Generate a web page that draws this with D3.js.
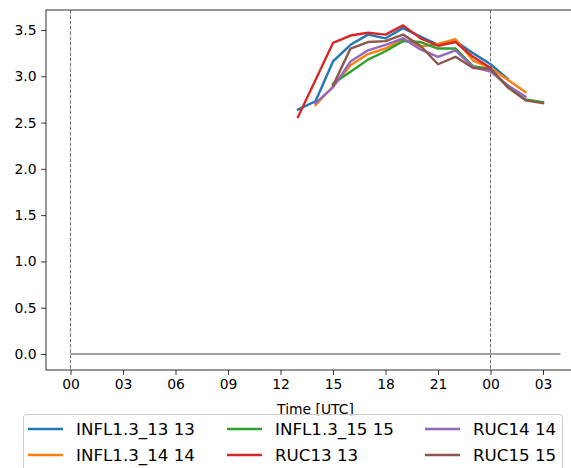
<!DOCTYPE html>
<html>
<head>
<meta charset="utf-8">
<script src="https://cdn.jsdelivr.net/npm/d3@7"></script>
<style>
    body { margin: 0; background: #fff; }
    svg { display: block; overflow: hidden; font-family: "DejaVu Sans", sans-serif; }
</style>
</head>
<body>
<svg id="chart" width="571" height="468"></svg>
<script>
// series names (legend order) and colours
const seriesNames = ["INFL1.3_13 13", "INFL1.3_14 14", "INFL1.3_15 15", "RUC13 13", "RUC14 14", "RUC15 15"];
const seriesColors = ["#1f77b4", "#ff7f0e", "#2ca02c", "#d62728", "#9467bd", "#8c564b"];

// first forecast hour (UTC, hours counted from 00 of day 1) for each series
const seriesStart = [13, 14, 15, 13, 14, 15];

// hourly values
const infl13 = [2.64, 2.73, 3.16, 3.34, 3.45, 3.41, 3.52, 3.43, 3.34, 3.38, 3.25, 3.13, 2.97];
const infl14 = [2.69, 2.89, 3.12, 3.24, 3.30, 3.40, 3.32, 3.35, 3.40, 3.17, 3.09, 2.96, 2.83];
const infl15 = [2.92, 3.05, 3.18, 3.27, 3.38, 3.37, 3.30, 3.30, 3.11, 3.08, 2.88, 2.75, 2.72];
const ruc13 = [2.56, 2.96, 3.36, 3.44, 3.47, 3.45, 3.55, 3.41, 3.33, 3.37, 3.21, 3.09];
const ruc14 = [2.71, 2.88, 3.16, 3.28, 3.34, 3.41, 3.29, 3.21, 3.28, 3.10, 3.05, 2.90, 2.78];
const ruc15 = [2.90, 3.30, 3.37, 3.38, 3.45, 3.33, 3.13, 3.21, 3.09, 3.08, 2.88, 2.74, 2.71];
const seriesValues = [infl13, infl14, infl15, ruc13, ruc14, ruc15];

// axis ticks
const xTicks = [0, 3, 6, 9, 12, 15, 18, 21, 24, 27];
const yTicks = [0, 0.5, 1.0, 1.5, 2.0, 2.5, 3.0, 3.5];
const dayMarks = [0, 24];
const zeroLineRange = [0, 28];

class Chart {

    constructor() {
        this.svg = d3.select("#chart");
        this.left = 46;
        this.right = 585;
        this.top = 10;
        this.bottom = 370;
        this.x = d3.scaleLinear().domain([-1.4, 29.4]).range([this.left, this.right]);
        this.y = d3.scaleLinear().domain([-0.173, 3.716]).range([this.bottom, this.top]);
    }

    draw() {
        let x = this.x, y = this.y;
        let svg = this.svg;

        // day separators
        svg.append("g").selectAll("line")
            .data(dayMarks)
            .enter()
            .append("line")
            .attr("x1", d => x(d)).attr("x2", d => x(d))
            .attr("y1", this.top).attr("y2", this.bottom)
            .attr("stroke", "#333")
            .attr("stroke-width", 0.7)
            .attr("stroke-dasharray", "3.7,1.6");

        // zero line
        svg.append("line")
            .attr("x1", x(zeroLineRange[0])).attr("x2", x(zeroLineRange[1]))
            .attr("y1", y(0)).attr("y2", y(0))
            .attr("stroke", "#333")
            .attr("stroke-width", 0.9);

        let line = d3.line()
            .x(d => x(d[0]))
            .y(d => y(d[1]));

        svg.append("g").selectAll("path")
            .data(seriesValues)
            .enter()
            .append("path")
            .attr("d", (vals, i) => line(vals.map((v, k) => [seriesStart[i] + k, v])))
            .attr("fill", "none")
            .attr("stroke", (d, i) => seriesColors[i])
            .attr("stroke-width", 2.4)
            .attr("stroke-linejoin", "round")
            .attr("stroke-linecap", "square");

        // axes
        let xAxis = d3.axisBottom(x)
            .tickValues(xTicks)
            .tickSize(4.9)
            .tickPadding(4.5)
            .tickFormat(d => String(d % 24).padStart(2, "0"));
        let yAxis = d3.axisLeft(y)
            .tickValues(yTicks)
            .tickSize(4.9)
            .tickPadding(4.5)
            .tickFormat(d3.format(".1f"));

        let gx = svg.append("g")
            .attr("transform", "translate(0," + this.bottom + ")")
            .call(xAxis);
        let gy = svg.append("g")
            .attr("transform", "translate(" + this.left + ",0)")
            .call(yAxis);
        [gx, gy].forEach(g => {
            g.select(".domain").remove();
            g.selectAll("text").attr("font-size", "13.9px").attr("font-family", "DejaVu Sans").attr("fill", "#000");
            g.selectAll("line").attr("stroke", "#000").attr("stroke-width", 0.8);
        });

        // frame
        svg.append("rect")
            .attr("x", this.left).attr("y", this.top)
            .attr("width", this.right - this.left)
            .attr("height", this.bottom - this.top)
            .attr("fill", "none")
            .attr("stroke", "#000")
            .attr("stroke-width", 0.8);

        svg.append("text")
            .attr("x", (this.left + this.right) / 2)
            .attr("y", 414)
            .attr("text-anchor", "middle")
            .attr("font-size", "13.9px")
            .text("Time [UTC]");

        this.drawLegend();
    }

    drawLegend() {
        let lg = this.svg.append("g");
        lg.append("rect")
            .attr("x", 23.5).attr("y", 414.5)
            .attr("width", 539).attr("height", 70)
            .attr("rx", 3)
            .attr("fill", "#fff")
            .attr("fill-opacity", 0.8)
            .attr("stroke", "#cccccc")
            .attr("stroke-width", 1);

        let colX = [28, 227, 425];
        let rowY = [429, 455];
        let items = lg.selectAll("g.item")
            .data(seriesNames)
            .enter()
            .append("g")
            .attr("class", "item")
            .attr("transform", (d, i) => "translate(" + colX[Math.floor(i / 2)] + "," + rowY[i % 2] + ")");
        items.append("line")
            .attr("x1", 0).attr("x2", 35)
            .attr("stroke", (d, i) => seriesColors[i])
            .attr("stroke-width", 2.6);
        items.append("text")
            .attr("x", 48)
            .attr("dy", "0.35em")
            .attr("font-size", "16.7px")
            .text(d => d);
    }
}

new Chart().draw();
</script>
</body>
</html>
